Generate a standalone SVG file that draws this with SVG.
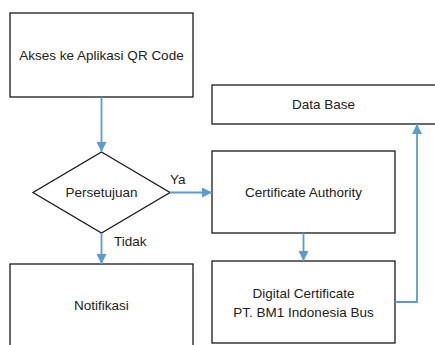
<svg xmlns="http://www.w3.org/2000/svg" width="435" height="345" viewBox="0 0 435 345">
<defs>
<marker id="ah" viewBox="0 0 10 10" refX="10" refY="5" markerWidth="10" markerHeight="10" markerUnits="userSpaceOnUse" orient="auto">
<path d="M0,0 L10,5 L0,10 Z" fill="#5B9BD5"/>
</marker>
</defs>
<style>
.box{fill:#fff;stroke:#1a1a1a;stroke-width:1.3}
.t{font-family:"Liberation Sans",Arial,sans-serif;font-size:13.5px;fill:#222;text-anchor:middle}
.l{font-family:"Liberation Sans",Arial,sans-serif;font-size:13.5px;fill:#222}
.c{fill:none;stroke:#5B9BD5;stroke-width:1.8;marker-end:url(#ah)}
</style>
<rect width="435" height="345" fill="#fff"/>
<g id="akses"><rect class="box" x="10" y="13" width="183" height="84"/><text class="t" x="101.5" y="60">Akses ke Aplikasi QR Code</text></g>
<g id="persetujuan"><polygon class="box" points="101.5,152 170,192.5 101.5,233 33,192.5"/><text class="t" x="101.5" y="197">Persetujuan</text></g>
<g id="notifikasi"><rect class="box" x="10" y="264" width="183" height="90"/><text class="t" x="101.5" y="310">Notifikasi</text></g>
<g id="database"><rect class="box" x="212" y="85" width="230" height="39"/><text class="t" x="323.5" y="109">Data Base</text></g>
<g id="ca"><rect class="box" x="212" y="151" width="183" height="82"/><text class="t" x="303.5" y="197">Certificate Authority</text></g>
<g id="dc"><rect class="box" x="212" y="261" width="183" height="82"/><text class="t" x="303.5" y="297.5">Digital Certificate</text><text class="t" x="303.5" y="316.5">PT. BM1 Indonesia Bus</text></g>
<g id="connectors">
<path class="c" d="M101.5,97 V152"/>
<path class="c" d="M170,192.5 H212"/>
<path class="c" d="M101.5,233 V264"/>
<path class="c" d="M303.5,233 V261"/>
<path class="c" d="M395,302 H417 V124"/>
<text class="l" x="170" y="183.5">Ya</text>
<text class="l" x="114" y="245.5">Tidak</text>
</g>
</svg>
